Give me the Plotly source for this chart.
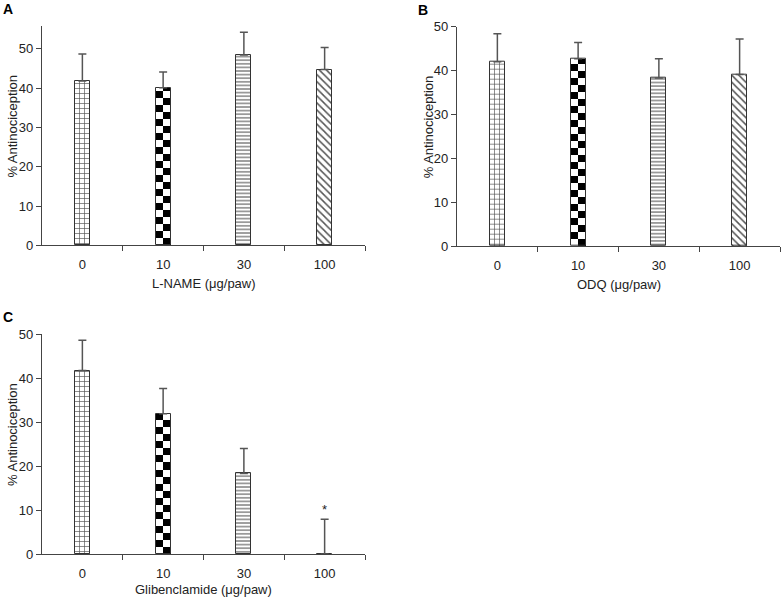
import numpy as np
import plotly.graph_objects as go

# ---- data ----
doses = ["0", "10", "30", "100"]
lname_mean = [41.8, 40.1, 48.4, 44.7]
lname_sem = [6.9, 4.0, 5.8, 5.6]
odq_mean = [42.0, 42.7, 38.3, 39.1]
odq_sem = [6.4, 3.7, 4.4, 8.1]
glib_mean = [41.7, 31.9, 18.3, 0.0]
glib_sem = [6.9, 5.7, 5.7, 7.9]

W, H = 782, 603
FONT = "Liberation Sans, Arial, sans-serif"
AX = "#444"
OUT = "#333"

panels = [
    dict(mean=lname_mean, sem=lname_sem, title="L-NAME (μg/paw)", letter="A",
         px=(42, 365), py=(26, 245.3), ymax=55.8, sq=1.78, star=False, toff=38),
    dict(mean=odq_mean, sem=odq_sem, title="ODQ (μg/paw)", letter="B",
         px=(457, 780), py=(26.7, 246), ymax=50, sq=1.6, star=False, toff=38),
    dict(mean=glib_mean, sem=glib_sem, title="Glibenclamide (μg/paw)", letter="C",
         px=(42, 365), py=(334, 554), ymax=50, sq=1.6, star=True, toff=35),
]

fig = go.Figure()
xpos = list(range(len(doses)))
bw = 0.186
cw = bw / 2
shapes_pat = ["+", "", "-", "\\"]

annotations = []
for i, p in enumerate(panels):
    n = "" if i == 0 else str(i + 1)
    xa, ya = "x" + n, "y" + n
    # patterned fill
    fig.add_trace(go.Bar(
        x=xpos, y=p["mean"], width=bw, xaxis=xa, yaxis=ya, showlegend=False,
        marker=dict(color="white", line=dict(width=0),
                    pattern=dict(shape=shapes_pat, fgcolor="#555", bgcolor="white",
                                 size=[5, 5, 3.6, 5], solidity=[0.25, 0.3, 0.3, 0.3],
                                 fillmode="replace")),
    ))
    # checkerboard for the 10 dose bar
    val = p["mean"][1]
    h = p["sq"]
    nrow = int(np.ceil(val / h))
    bases = np.arange(nrow) * h
    heights = np.minimum(h, val - bases)
    rows = np.arange(nrow)
    for col, parity in ((-1, 1), (1, 0)):
        sel = rows % 2 == parity
        fig.add_trace(go.Bar(
            x=[1 + col * cw / 2] * int(sel.sum()), y=heights[sel], base=bases[sel],
            width=cw, xaxis=xa, yaxis=ya, showlegend=False,
            marker=dict(color="black", line=dict(width=0)),
        ))
    # outlines + error bars
    fig.add_trace(go.Bar(
        x=xpos, y=p["mean"], width=bw, xaxis=xa, yaxis=ya, showlegend=False,
        marker=dict(color="rgba(0,0,0,0)", line=dict(color=OUT, width=1)),
        error_y=dict(type="data", array=p["sem"], arrayminus=[0] * 4, symmetric=False,
                     color="#555", thickness=1.5, width=4),
    ))
    xd = [p["px"][0] / W, p["px"][1] / W]
    yd = [1 - p["py"][1] / H, 1 - p["py"][0] / H]
    axis_common = dict(showgrid=False, zeroline=False, showline=True, linecolor=AX,
                       linewidth=1.3, automargin=False,
                       tickfont=dict(family=FONT, size=13, color="#222"))
    fig.layout["xaxis" + n] = dict(
        domain=xd, range=[-0.5, 3.5], anchor=ya, tickmode="array", tickvals=xpos,
        ticktext=doses, ticks="", ticklen=0, ticklabelstandoff=7,
        minor=dict(tickvals=[0.5, 1.5, 2.5, 3.5], ticks="outside", ticklen=5,
                   tickcolor=AX, tickwidth=1.3),
        **axis_common)
    fig.layout["yaxis" + n] = dict(
        domain=yd, range=[0, p["ymax"]], anchor=xa, tickvals=[0, 10, 20, 30, 40, 50],
        ticks="outside", ticklen=5, tickcolor=AX, tickwidth=1.3, **axis_common)
    # titles
    cx = (p["px"][0] + p["px"][1]) / 2 / W
    annotations.append(dict(text=p["title"], x=cx, y=1 - (p["py"][1] + p["toff"]) / H,
                            xref="paper", yref="paper", showarrow=False,
                            xanchor="center", yanchor="middle",
                            font=dict(family=FONT, size=13, color="#222")))
    annotations.append(dict(text="% Antinociception", x=(p["px"][0] - 29) / W,
                            y=1 - (p["py"][0] + p["py"][1]) / 2 / H + 0.015,
                            xref="paper", yref="paper", showarrow=False, textangle=-90,
                            xanchor="center", yanchor="middle",
                            font=dict(family=FONT, size=13, color="#222")))
    annotations.append(dict(text="<b>" + p["letter"] + "</b>",
                            x=(p["px"][0] - 34) / W, y=1 - (p["py"][0] - 17) / H,
                            xref="paper", yref="paper", showarrow=False,
                            xanchor="center", yanchor="middle",
                            font=dict(family=FONT, size=14, color="black")))
    if p["star"]:
        annotations.append(dict(text="*", x=3, y=p["mean"][3] + p["sem"][3],
                                xref=xa, yref=ya, showarrow=False, yshift=10,
                                font=dict(family=FONT, size=13, color="#222")))

fig.update_layout(
    width=W, height=H, margin=dict(l=0, r=0, t=0, b=0),
    barmode="overlay", plot_bgcolor="white", paper_bgcolor="white",
    annotations=annotations, bargap=0,
)
fig.write_html("out.html", config={"displayModeBar": False},
               post_script="document.body.style.margin='0';")
